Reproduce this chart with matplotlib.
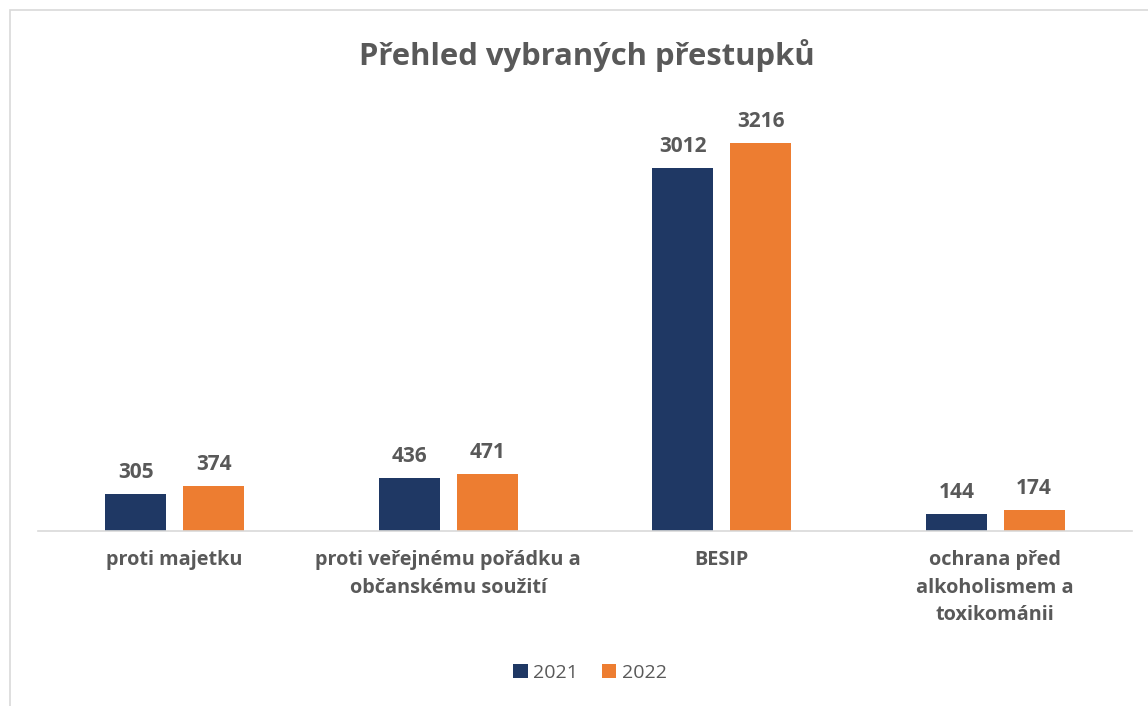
import matplotlib.pyplot as plt
import numpy as np
from matplotlib.patches import Rectangle

# Data
kategorie = ['proti majetku', 'proti veřejnému pořádku a\nobčanskému soužití',
             'BESIP', 'ochrana před\nalkoholismem a\ntoxikománii']
hodnoty_2021 = [305, 436, 3012, 144]
hodnoty_2022 = [374, 471, 3216, 174]
roky = ['2021', '2022']

modra = '#1f3864'
oranzova = '#ed7d31'
seda = '#595959'

plt.rcParams['font.family'] = ['Open Sans', 'DejaVu Sans']

W, H = 1148, 706
fig = plt.figure(figsize=(W / 100, H / 100), dpi=100)

# okraj grafu (jen levy a horni okraj je videt)
fig.patches.append(Rectangle((10 / W, -0.1), 2, 1.1 - 10 / H, transform=fig.transFigure,
                             fill=False, edgecolor='#d9d9d9', linewidth=1.2))

ax = fig.add_axes([38 / W, (H - 531) / H, (1132 - 38) / W, (531 - 105) / H])

x = np.arange(len(kategorie))
sirka = 0.223
b1 = ax.bar(x - 0.142, hodnoty_2021, sirka, color=modra, label=roky[0])
b2 = ax.bar(x + 0.142, hodnoty_2022, sirka, color=oranzova, label=roky[1])

for bars in (b1, b2):
    ax.bar_label(bars, padding=8, fontsize=15, fontweight='bold', color=seda)

ax.set_xlim(-0.5, len(kategorie) - 0.5)
ax.set_ylim(0, 3532)
ax.set_yticks([])
for s in ['top', 'right', 'left']:
    ax.spines[s].set_visible(False)
ax.spines['bottom'].set_color('#d9d9d9')
ax.spines['bottom'].set_linewidth(1.2)
ax.set_xticks(x)
ax.set_xticklabels(kategorie, fontsize=14.3, fontweight='bold', color=seda, linespacing=1.5)
ax.tick_params(axis='x', length=0, pad=14)

fig.text(0.511, (H - 55) / H, 'Přehled vybraných přestupků', ha='center', va='center',
         fontsize=22.3, fontweight='bold', color=seda)

fig.legend(loc='center', bbox_to_anchor=(590 / W, (H - 673) / H), ncol=2, frameon=False,
           fontsize=14, labelcolor=seda, handlelength=0.75, handleheight=0.75,
           handletextpad=0.3, columnspacing=1.2)

fig.savefig('out.png', dpi=100)
